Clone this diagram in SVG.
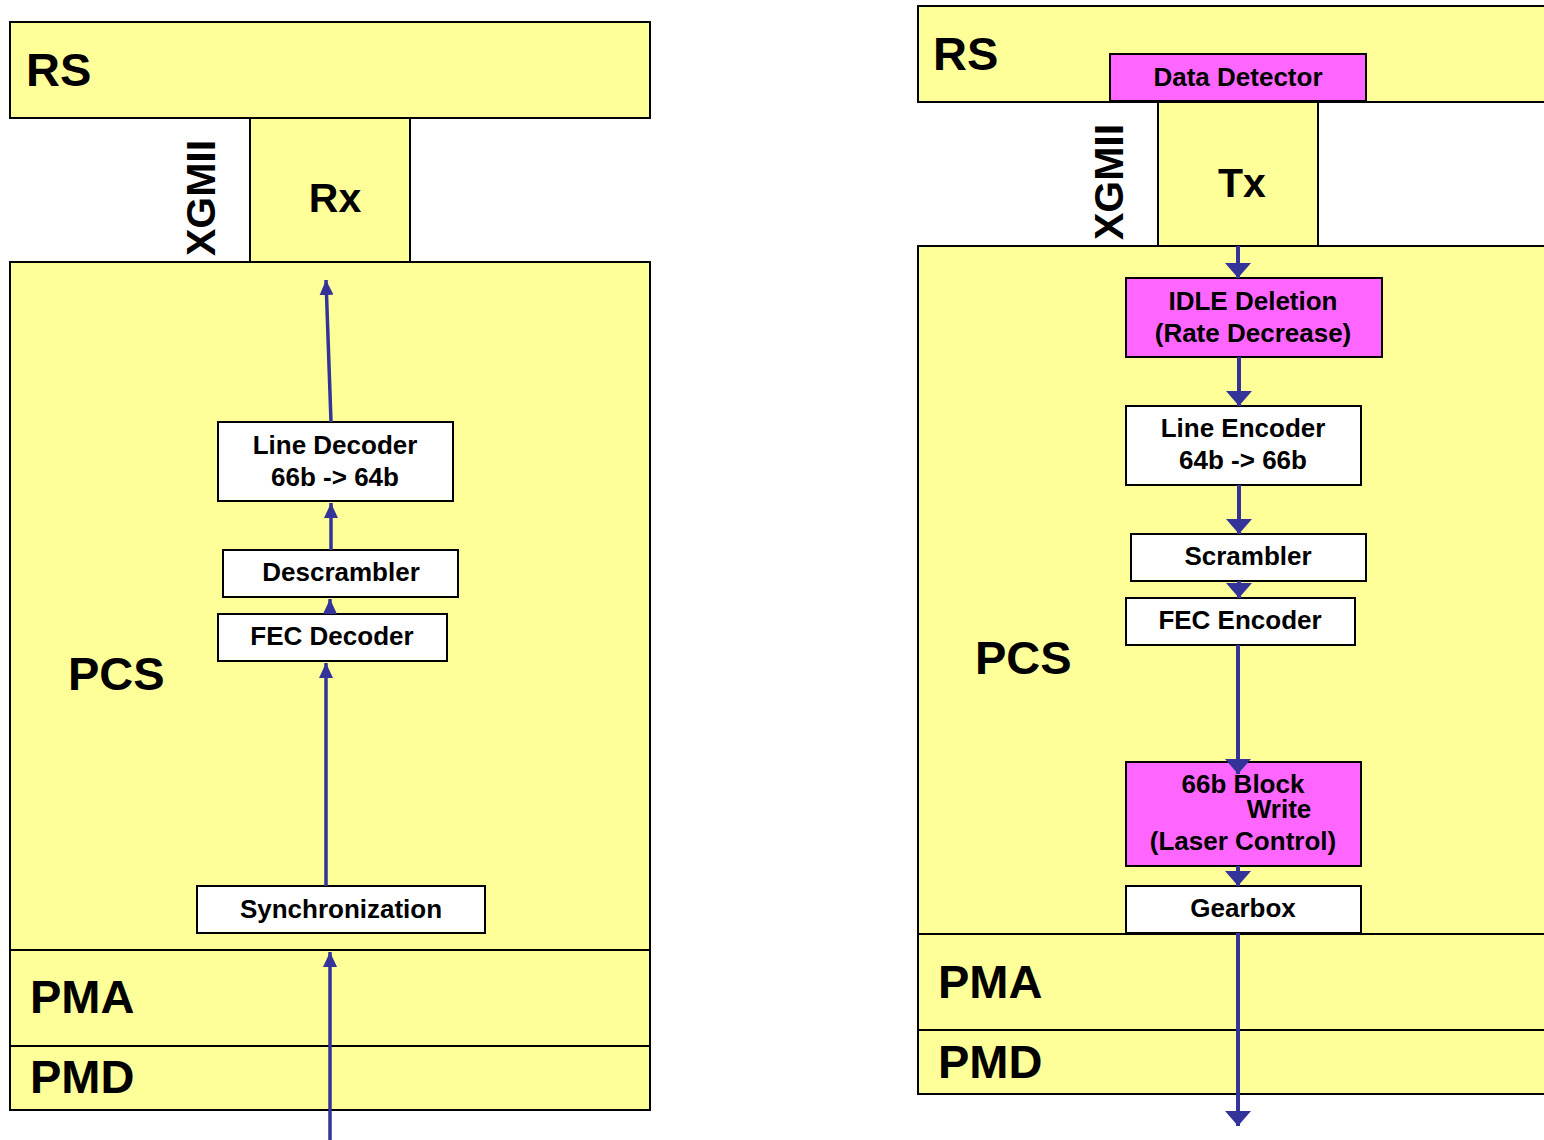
<svg xmlns="http://www.w3.org/2000/svg" width="1544" height="1140" viewBox="0 0 1544 1140">
<style>
.ly{fill:#FFFF99;stroke:#000;stroke-width:2}
.mg{fill:#FF66FF;stroke:#000;stroke-width:2}
.wb{fill:#FFFFFF;stroke:#000;stroke-width:2}
text{font-family:"Liberation Sans",Arial,sans-serif;font-weight:bold;fill:#000}
.big{font-size:47px}
.mid{font-size:41px}
.box{font-size:26px;text-anchor:middle}
.cn{stroke:#333399;fill:none}
.l{stroke-width:3.5}
.r{stroke-width:4}
</style>
<defs>
<marker id="an" viewBox="0 0 15 14" refX="15" refY="7" markerWidth="15" markerHeight="14" markerUnits="userSpaceOnUse" orient="auto"><path d="M0,0 L15,7 L0,14 z" fill="#333399"/></marker>
<marker id="aw" viewBox="0 0 15 26" refX="15" refY="13" markerWidth="15" markerHeight="26" markerUnits="userSpaceOnUse" orient="auto"><path d="M0,0 L15,13 L0,26 z" fill="#333399"/></marker>
</defs>
<rect width="1544" height="1140" fill="#FFFFFF"/>

<!-- Left stack -->
<g id="l-rs"><rect class="ly" x="10" y="22" width="640" height="96"/><text class="big" x="26" y="86">RS</text></g>
<g id="l-rx"><rect class="ly" x="250" y="118" width="160" height="144"/><text class="mid" x="335" y="212" text-anchor="middle">Rx</text></g>
<g id="l-xgmii"><text class="mid" transform="translate(215,198) rotate(-90)" text-anchor="middle">XGMII</text></g>
<g id="l-pcs"><rect class="ly" x="10" y="262" width="640" height="688"/><text class="big" x="68" y="690">PCS</text></g>
<g id="l-pma"><rect class="ly" x="10" y="950" width="640" height="96"/><text class="big" x="30" y="1013">PMA</text></g>
<g id="l-pmd"><rect class="ly" x="10" y="1046" width="640" height="64"/><text class="big" x="30" y="1093">PMD</text></g>
<g id="l-linedec"><rect class="wb" x="218" y="422" width="235" height="79"/><text class="box" x="335" y="454">Line Decoder</text><text class="box" x="335" y="486">66b -&gt; 64b</text></g>
<g id="l-descr"><rect class="wb" x="223" y="550" width="235" height="47"/><text class="box" x="341" y="581">Descrambler</text></g>
<g id="l-fecdec"><rect class="wb" x="218" y="614" width="229" height="47"/><text class="box" x="332" y="645">FEC Decoder</text></g>
<g id="l-sync"><rect class="wb" x="197" y="886" width="288" height="47"/><text class="box" x="341" y="918">Synchronization</text></g>

<!-- Right stack -->
<g id="r-rs"><rect class="ly" x="918" y="6" width="640" height="96"/><text class="big" x="933" y="70">RS</text></g>
<g id="r-tx"><rect class="ly" x="1158" y="102" width="160" height="144"/><text class="mid" x="1242" y="197" text-anchor="middle">Tx</text></g>
<g id="r-dd"><rect class="mg" x="1110" y="54" width="256" height="47"/><text class="box" x="1238" y="86">Data Detector</text></g>
<g id="r-xgmii"><text class="mid" transform="translate(1123,182) rotate(-90)" text-anchor="middle">XGMII</text></g>
<g id="r-pcs"><rect class="ly" x="918" y="246" width="640" height="688"/><text class="big" x="975" y="674">PCS</text></g>
<g id="r-pma"><rect class="ly" x="918" y="934" width="640" height="96"/><text class="big" x="938" y="998">PMA</text></g>
<g id="r-pmd"><rect class="ly" x="918" y="1030" width="640" height="64"/><text class="big" x="938" y="1078">PMD</text></g>
<g id="r-idle"><rect class="mg" x="1126" y="278" width="256" height="79"/><text class="box" x="1253" y="310">IDLE Deletion</text><text class="box" x="1253" y="342">(Rate Decrease)</text></g>
<g id="r-lineenc"><rect class="wb" x="1126" y="406" width="235" height="79"/><text class="box" x="1243" y="437">Line Encoder</text><text class="box" x="1243" y="469">64b -&gt; 66b</text></g>
<g id="r-scr"><rect class="wb" x="1131" y="534" width="235" height="47"/><text class="box" x="1248" y="565">Scrambler</text></g>
<g id="r-fecenc"><rect class="wb" x="1126" y="598" width="229" height="47"/><text class="box" x="1240" y="629">FEC Encoder</text></g>
<g id="r-blk"><rect class="mg" x="1126" y="762" width="235" height="104"/><text class="box" x="1243" y="793">66b Block</text><text class="box" x="1279" y="818">Write</text><text class="box" x="1243" y="850">(Laser Control)</text></g>
<g id="r-gear"><rect class="wb" x="1126" y="886" width="235" height="47"/><text class="box" x="1243" y="917">Gearbox</text></g>

<!-- Connectors -->
<g id="connectors" class="cn">
<line class="l" x1="330" y1="1140" x2="330" y2="952" marker-end="url(#an)"/>
<line class="l" x1="326" y1="886" x2="326" y2="663" marker-end="url(#an)"/>
<line class="l" x1="330" y1="614" x2="330" y2="599" marker-end="url(#an)"/>
<line class="l" x1="331" y1="550" x2="331" y2="503" marker-end="url(#an)"/>
<line class="l" x1="331" y1="422" x2="326" y2="280" marker-end="url(#an)"/>
<line class="r" x1="1238" y1="246" x2="1238" y2="278" marker-end="url(#aw)"/>
<line class="r" x1="1239" y1="357" x2="1239" y2="406" marker-end="url(#aw)"/>
<line class="r" x1="1239" y1="485" x2="1239" y2="534" marker-end="url(#aw)"/>
<line class="r" x1="1239" y1="581" x2="1239" y2="598" marker-end="url(#aw)"/>
<line class="r" x1="1238" y1="645" x2="1238" y2="774" marker-end="url(#aw)"/>
<line class="r" x1="1238" y1="866" x2="1238" y2="886" marker-end="url(#aw)"/>
<line class="r" x1="1238" y1="933" x2="1238" y2="1126" marker-end="url(#aw)"/>
</g>
</svg>
